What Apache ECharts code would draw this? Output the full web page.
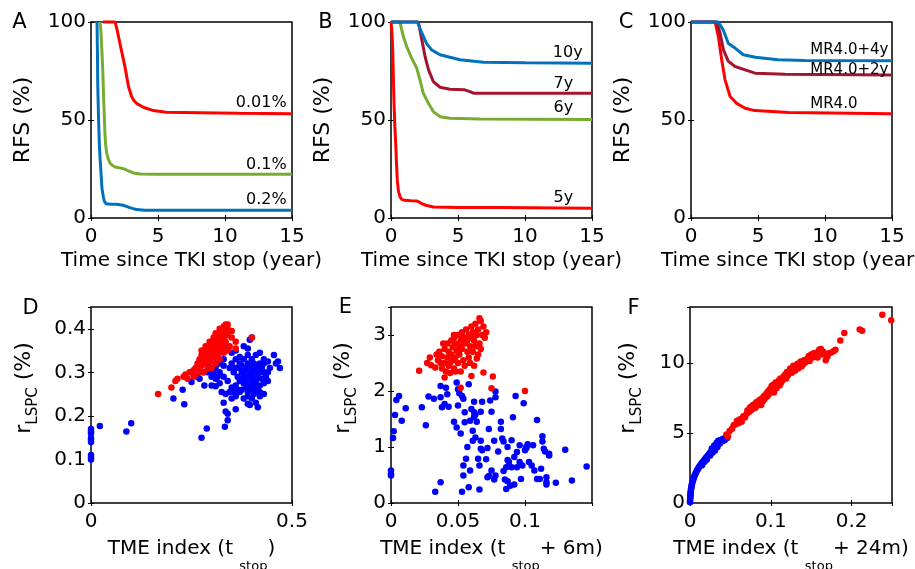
<!DOCTYPE html>
<html><head><meta charset="utf-8">
<script src="https://cdn.jsdelivr.net/npm/echarts@6/dist/echarts.min.js"></script>
<style>html,body{margin:0;padding:0;background:#fff}#c{width:915px;height:569px}</style>
</head><body><div id="c"></div>
<script>
// ---------- DATA ----------
// Panel A: RFS (%) vs time since TKI stop (year)
const a_02 = [[0.45,100],[0.48,85],[0.5,69],[0.56,52],[0.62,38],[0.68,30],[0.75,22.7],[0.82,15],[0.92,10.8],[1.0,8.5],[1.12,7.3],[1.5,7],[1.9,7],[2.4,6.5],[2.9,5.3],[3.4,4.3],[4,4],[8,3.9],[15,3.9]];
const a_01 = [[0.67,100],[0.72,97],[0.78,90],[0.87,77],[0.95,60],[1.04,43],[1.1,37],[1.17,33],[1.3,30],[1.42,28],[1.6,26.8],[1.8,26],[2.1,25.6],[2.41,25.2],[2.8,24],[3.16,23],[3.66,22.4],[5,22.3],[15,22.3]];
const a_001 = [[0.9,100],[1.8,100],[1.95,96],[2.16,89],[2.35,83],[2.54,77],[2.8,67],[3.03,62],[3.2,60],[3.4,58.5],[3.9,56.5],[4.65,54.8],[5.6,54],[8.1,53.7],[11,53.4],[15,53.2]];
// Panel B
const b_5y = [[0,100],[0.06,96],[0.12,87.5],[0.17,74],[0.22,60],[0.28,48],[0.35,38],[0.41,28],[0.47,19.3],[0.55,14],[0.67,10.8],[0.8,9.5],[1.04,9],[1.5,8.8],[1.9,8.7],[2.1,8.2],[2.29,7.3],[2.6,6.5],[3.16,5.6],[5,5.4],[8.1,5.3],[15,5]];
const b_6y = [[0,100],[0.67,100],[0.8,96],[0.92,92.6],[1.17,87.5],[1.54,81.6],[1.92,76.5],[2.16,70.5],[2.41,63.7],[2.79,58.5],[3.16,54.3],[3.66,51.7],[4.4,50.9],[6.64,50.5],[15,50.3]];
const b_7y = [[0,100],[2.04,100],[2.3,91],[2.54,82.4],[2.8,75.6],[3.16,69.6],[3.66,66.7],[4.4,65.7],[5.5,65.4],[5.9,64.5],[6.15,63.7],[15,63.7]];
const b_10y = [[0,100],[1.97,100],[2.3,94.4],[2.66,89],[3.03,85.8],[3.66,83.3],[4.4,82],[5.15,80.7],[6.9,79.5],[10,79.2],[15,79]];
// Panel C
const c_mr4 = [[0,100],[1.8,100],[2.04,92.7],[2.29,80.7],[2.54,70.5],[2.92,62],[3.41,58.5],[4.04,56],[4.78,54.8],[7.28,53.8],[15,53.2]];
const c_mr4_2y = [[0,100],[1.92,100],[2.17,94.4],[2.42,85.8],[2.79,79.9],[3.29,77.3],[4.04,75.6],[4.78,73.9],[7,73.3],[15,73]];
const c_mr4_4y = [[0,100],[2.04,100],[2.4,96],[2.79,89],[3.29,86.7],[3.9,83.3],[4.8,82],[6.5,80.7],[8.5,80.3],[15,80.2]];

// Panel D: r_LSPC (%) vs TME index (t_stop)
const dBlue = [[0,0.17],[0,0.165],[0,0.16],[0,0.15],[0,0.145],[0,0.14],[0,0.11],[0,0.105],[0,0.1],[0.022,0.177],[0.088,0.164],[0.1,0.183],[0.205,0.24],[0.232,0.227],[0.228,0.26],[0.25,0.278],[0.275,0.15],[0.288,0.171],[0.333,0.175],[0.27,0.285],[0.282,0.27],[0.3,0.27],[0.31,0.268],[0.29,0.3],[0.3,0.305],[0.31,0.31],[0.32,0.3],[0.33,0.29],[0.34,0.28],[0.335,0.25],[0.33,0.23],[0.335,0.21],[0.34,0.205],[0.34,0.19],[0.36,0.215],[0.35,0.24],[0.36,0.245],[0.37,0.255],[0.38,0.24],[0.39,0.228],[0.395,0.225],[0.4,0.24],[0.405,0.25],[0.41,0.26],[0.42,0.245],[0.43,0.25],[0.44,0.28],[0.445,0.31],[0.46,0.32],[0.465,0.325],[0.47,0.31],[0.455,0.34],[0.43,0.33],[0.42,0.345],[0.41,0.34],[0.4,0.33],[0.39,0.34],[0.38,0.33],[0.37,0.335],[0.36,0.33],[0.35,0.32],[0.345,0.31],[0.355,0.3],[0.365,0.29],[0.375,0.3],[0.385,0.31],[0.39,0.29],[0.395,0.3],[0.4,0.31],[0.405,0.32],[0.41,0.3],[0.415,0.29],[0.42,0.3],[0.425,0.31],[0.43,0.3],[0.435,0.29],[0.43,0.275],[0.42,0.27],[0.41,0.28],[0.4,0.28],[0.395,0.27],[0.385,0.265],[0.38,0.275],[0.37,0.28],[0.36,0.27],[0.35,0.265],[0.345,0.255],[0.355,0.255],[0.365,0.26],[0.375,0.26],[0.39,0.255],[0.4,0.26],[0.405,0.27],[0.415,0.265],[0.425,0.285],[0.44,0.3],[0.41,0.31],[0.39,0.32],[0.37,0.32],[0.35,0.345],[0.36,0.35],[0.38,0.36],[0.39,0.355],[0.34,0.355],[0.33,0.36],[0.395,0.375],[0.4,0.38],[0.32,0.32],[0.33,0.315],[0.29,0.32],[0.3,0.29],[0.28,0.3],[0.265,0.29],[0.41,0.23],[0.415,0.22],[0.39,0.245],[0.42,0.255],[0.33,0.33],[0.36,0.31],[0.37,0.31],[0.38,0.29],[0.4,0.29],[0.395,0.285],[0.385,0.28],[0.405,0.295],[0.415,0.305],[0.38,0.3],[0.375,0.315],[0.4,0.3],[0.42,0.32],[0.43,0.32],[0.44,0.325],[0.31,0.285],[0.32,0.275],[0.305,0.3],[0.325,0.255],[0.315,0.29]];
const dRed = [[0.167,0.25],[0.2,0.265],[0.21,0.28],[0.215,0.285],[0.23,0.29],[0.235,0.295],[0.24,0.285],[0.245,0.3],[0.25,0.3],[0.255,0.305],[0.26,0.31],[0.265,0.32],[0.27,0.31],[0.27,0.33],[0.275,0.34],[0.275,0.315],[0.28,0.32],[0.28,0.345],[0.285,0.33],[0.285,0.35],[0.29,0.335],[0.29,0.36],[0.295,0.34],[0.295,0.355],[0.3,0.345],[0.3,0.37],[0.3,0.325],[0.305,0.36],[0.305,0.38],[0.31,0.35],[0.31,0.37],[0.31,0.39],[0.315,0.36],[0.315,0.38],[0.32,0.365],[0.32,0.385],[0.32,0.4],[0.325,0.375],[0.325,0.395],[0.33,0.38],[0.33,0.405],[0.335,0.39],[0.335,0.41],[0.34,0.4],[0.34,0.41],[0.33,0.36],[0.32,0.345],[0.31,0.33],[0.3,0.31],[0.29,0.31],[0.28,0.33],[0.275,0.35],[0.285,0.36],[0.295,0.37],[0.305,0.34],[0.315,0.34],[0.325,0.35],[0.335,0.37],[0.345,0.36],[0.35,0.38],[0.36,0.37],[0.35,0.395],[0.34,0.385],[0.3,0.33],[0.28,0.3],[0.27,0.3],[0.26,0.295],[0.29,0.345],[0.31,0.355],[0.32,0.355],[0.33,0.345],[0.3,0.355],[0.31,0.32],[0.32,0.33],[0.29,0.325],[0.3,0.34],[0.34,0.35],[0.36,0.355],[0.4,0.38],[0.27,0.325],[0.265,0.3],[0.255,0.29],[0.275,0.33],[0.295,0.325],[0.285,0.34],[0.305,0.35],[0.315,0.37],[0.325,0.385],[0.335,0.4],[0.33,0.39]];

// Panel E: r_LSPC (%) vs TME index (t_stop + 6m)
const eBlue = [[0,0.58],[0,0.52],[0,0.49],[0.002,1.28],[0.0015,1.16],[0.003,1.57],[0.004,1.84],[0.006,1.91],[0.008,1.47],[0.011,1.69],[0.023,1.71],[0.026,1.39],[0.028,1.9],[0.032,1.86],[0.033,0.2],[0.037,0.37],[0.037,2.09],[0.037,1.89],[0.038,1.71],[0.04,1.77],[0.041,2.06],[0.042,1.94],[0.043,1.72],[0.047,1.45],[0.049,1.35],[0.05,1.74],[0.049,2.15],[0.05,2.03],[0.051,1.96],[0.052,1.24],[0.053,1.91],[0.054,1.86],[0.055,1.62],[0.055,1.44],[0.054,0.67],[0.054,0.49],[0.053,0.2],[0.056,0.79],[0.058,0.28],[0.057,1.0],[0.058,2.12],[0.059,0.58],[0.059,1.47],[0.06,1.68],[0.061,1.29],[0.061,1.11],[0.062,1.62],[0.062,1.54],[0.062,1.81],[0.063,1.17],[0.063,1.58],[0.064,1.45],[0.065,0.79],[0.066,0.67],[0.066,0.24],[0.067,1.11],[0.067,0.97],[0.067,1.63],[0.068,1.81],[0.068,0.94],[0.071,0.78],[0.072,0.98],[0.073,1.32],[0.072,0.46],[0.073,0.48],[0.074,1.83],[0.075,1.63],[0.075,0.58],[0.077,1.11],[0.077,0.42],[0.078,0.49],[0.078,1.99],[0.078,1.89],[0.08,0.92],[0.082,1.32],[0.082,1.45],[0.083,1.15],[0.084,0.57],[0.084,1.1],[0.085,0.42],[0.086,0.25],[0.086,0.64],[0.087,1.0],[0.087,0.77],[0.087,0.39],[0.088,0.73],[0.089,0.31],[0.09,1.12],[0.09,0.64],[0.091,1.53],[0.092,0.33],[0.092,0.82],[0.093,1.91],[0.094,0.64],[0.094,0.91],[0.096,1.03],[0.096,0.73],[0.097,0.43],[0.098,0.67],[0.099,1.78],[0.1,0.94],[0.101,0.98],[0.101,1.0],[0.102,1.05],[0.103,0.73],[0.105,0.67],[0.106,1.03],[0.107,0.58],[0.109,1.48],[0.109,0.43],[0.111,0.43],[0.112,0.61],[0.113,1.19],[0.113,1.1],[0.114,0.97],[0.115,0.92],[0.116,0.46],[0.116,0.33],[0.116,0.37],[0.118,0.88],[0.118,0.85],[0.123,0.36],[0.13,0.95],[0.135,0.4],[0.146,0.65]];
const eRed = [[0.021,2.36],[0.027,2.5],[0.029,2.6],[0.03,2.46],[0.033,2.42],[0.035,2.55],[0.036,2.7],[0.038,2.4],[0.038,2.62],[0.04,2.24],[0.04,2.5],[0.04,2.75],[0.041,2.35],[0.042,2.6],[0.042,2.85],[0.043,2.7],[0.044,2.5],[0.045,2.9],[0.045,2.65],[0.046,2.78],[0.047,2.4],[0.047,2.95],[0.048,2.6],[0.048,2.85],[0.049,2.72],[0.05,2.5],[0.05,3.0],[0.051,2.8],[0.051,2.65],[0.052,2.06],[0.052,2.9],[0.053,2.75],[0.053,3.05],[0.054,2.55],[0.055,2.85],[0.055,2.95],[0.056,3.1],[0.057,2.7],[0.057,2.9],[0.058,3.0],[0.059,2.8],[0.06,2.27],[0.06,3.15],[0.06,2.95],[0.061,3.05],[0.062,2.9],[0.062,2.45],[0.063,3.2],[0.064,2.58],[0.064,3.0],[0.065,3.1],[0.066,3.3],[0.066,2.85],[0.067,3.25],[0.068,3.0],[0.069,2.33],[0.069,3.15],[0.07,2.95],[0.071,3.05],[0.075,2.05],[0.076,2.26],[0.1,2.0],[0.044,2.32],[0.046,2.55],[0.05,2.7],[0.054,2.95],[0.058,2.6],[0.063,2.8],[0.037,2.5],[0.043,2.45],[0.048,2.35],[0.055,2.45],[0.059,2.5],[0.052,2.35],[0.034,2.65],[0.039,2.85],[0.047,3.0],[0.061,2.7],[0.065,2.65],[0.067,2.75]];

// Panel F: r_LSPC (%) vs TME index (t_stop + 24m)
const fBlue = [[0,0.05],[0,0.15],[0.0002,0.25],[0.0003,0.35],[0.0004,0.45],[0.0005,0.55],[0.0006,0.65],[0.0008,0.75],[0.001,0.85],[0.0012,0.95],[0.0014,1.05],[0.0017,1.15],[0.002,1.25],[0.0024,1.35],[0.0028,1.45],[0.0033,1.55],[0.0038,1.65],[0.0044,1.75],[0.005,1.85],[0.0057,1.95],[0.0064,2.05],[0.0072,2.15],[0.008,2.25],[0.009,2.35],[0.01,2.45],[0.011,2.55],[0.012,2.62],[0.013,2.72],[0.014,2.8],[0.015,2.88],[0.016,2.95],[0.017,3.0],[0.018,3.1],[0.019,3.15],[0.02,3.25],[0.021,3.3],[0.022,3.38],[0.023,3.45],[0.024,3.52],[0.025,3.6],[0.026,3.65],[0.027,3.72],[0.028,3.8],[0.029,3.85],[0.03,3.92],[0.031,4.0],[0.032,4.05],[0.033,4.12],[0.034,4.2],[0.035,4.3],[0.036,4.38],[0.037,4.45],[0.038,4.5],[0.04,4.55],[0.042,4.6],[0.044,4.62],[0.046,4.65],[0.021,3.1],[0.025,3.4],[0.028,3.6],[0.031,3.75],[0.034,4.0],[0.037,4.25],[0.039,4.4],[0.015,2.7],[0.018,2.95],[0.027,3.9],[0.03,4.1],[0.033,4.3],[0.035,4.45],[0.041,4.45],[0.043,4.5]];
const fRed = [[0.045,4.9],[0.047,4.75],[0.049,5.15],[0.052,5.3],[0.054,5.55],[0.056,5.6],[0.058,5.85],[0.06,5.7],[0.061,5.95],[0.063,6.0],[0.064,5.8],[0.066,6.2],[0.068,6.1],[0.07,6.35],[0.071,6.6],[0.073,6.5],[0.074,6.8],[0.075,6.6],[0.076,6.9],[0.077,6.7],[0.078,7.0],[0.079,6.85],[0.08,7.05],[0.081,6.8],[0.082,7.2],[0.083,6.95],[0.084,7.1],[0.085,7.3],[0.086,7.15],[0.087,7.4],[0.088,7.0],[0.089,7.45],[0.09,7.25],[0.091,7.6],[0.092,7.4],[0.093,7.7],[0.094,7.55],[0.095,7.85],[0.096,7.65],[0.097,8.0],[0.098,7.8],[0.099,8.15],[0.1,7.95],[0.101,8.35],[0.102,8.1],[0.103,8.45],[0.104,7.9],[0.105,8.3],[0.106,8.6],[0.107,8.2],[0.108,8.5],[0.11,8.75],[0.111,8.4],[0.112,8.9],[0.113,8.6],[0.115,8.8],[0.116,9.05],[0.118,9.2],[0.119,8.9],[0.12,9.35],[0.121,9.1],[0.123,9.4],[0.124,9.6],[0.126,9.3],[0.127,9.5],[0.128,9.8],[0.13,9.45],[0.131,9.7],[0.133,9.95],[0.134,9.6],[0.135,9.85],[0.137,10.1],[0.138,9.75],[0.14,9.9],[0.141,10.2],[0.143,10.05],[0.145,10.3],[0.147,10.5],[0.148,10.15],[0.15,10.6],[0.152,10.4],[0.153,10.7],[0.155,10.55],[0.157,10.75],[0.158,10.4],[0.16,10.95],[0.162,11.0],[0.164,10.6],[0.165,10.8],[0.168,10.2],[0.17,10.45],[0.172,10.7],[0.175,10.75],[0.178,10.85],[0.18,10.95],[0.186,11.6],[0.191,12.15],[0.21,12.4],[0.213,12.3],[0.238,13.45],[0.249,13.05]];

// Curve labels: [panel, text, x, y, align]
const curveLabels = [
  [0,'0.01%',14.6,58.7,'right'],[0,'0.1%',14.6,27,'right'],[0,'0.2%',14.6,9.2,'right'],
  [1,'10y',14.3,84.2,'right'],[1,'7y',13.6,68.4,'right'],[1,'6y',13.6,56,'right'],[1,'5y',13.6,10.2,'right'],
  [2,'MR4.0+4y',8.9,85.7,'left'],[2,'MR4.0+2y',8.9,75.5,'left'],[2,'MR4.0',8.9,58,'left']
];
const panelLetters = ['A','B','C','D','E','F'];

// ---------- LAYOUT / STYLE ----------
const FONT = 'DejaVu Sans';
const BLUE = '#0072BD', GREEN = '#77AC30', DRED = '#A2142F', RED = '#FF0000';
const grids = [
  {left:91, top:22, width:201, height:196},
  {left:391, top:22, width:201, height:196},
  {left:691, top:22, width:201, height:196},
  {left:91, top:307, width:201, height:196},
  {left:391, top:307, width:201, height:196},
  {left:690, top:307, width:202, height:196}
];
const ranges = [
  {x:[0,15,5], y:[0,100,50]},
  {x:[0,15,5], y:[0,100,50]},
  {x:[0,15,5], y:[0,100,50]},
  {x:[0,0.5,0.5], y:[0,0.45,0.1]},
  {x:[0,0.15,0.05], y:[0,3.5,1]},
  {x:[0,0.25,0.1], y:[0,14,5]}
];
const xAxis = [], yAxis = [];
ranges.forEach((r, i) => {
  const tick = {show:true, inside:true, length:3, lineStyle:{color:'#000', width:1}};
  const lab = {show:true, color:'#000', fontFamily:FONT, fontSize:20, showMaxLabel: i <= 3};
  const ylab = {show:true, color:'#000', fontFamily:FONT, fontSize:20, margin:5, showMaxLabel: i < 3};
  xAxis.push({type:'value', gridIndex:i, position:'bottom', min:r.x[0], max:r.x[1], interval:r.x[2],
    axisLine:{show:false}, splitLine:{show:false}, axisTick:tick, axisLabel:Object.assign({margin:9}, lab)});
  xAxis.push({type:'value', gridIndex:i, position:'top', min:r.x[0], max:r.x[1], interval:r.x[2],
    axisLine:{show:false}, splitLine:{show:false}, axisTick:tick, axisLabel:{show:false}});
  yAxis.push({type:'value', gridIndex:i, position:'left', min:r.y[0], max:r.y[1], interval:r.y[2],
    axisLine:{show:false}, splitLine:{show:false}, axisTick:tick, axisLabel:ylab});
  yAxis.push({type:'value', gridIndex:i, position:'right', min:r.y[0], max:r.y[1], interval:r.y[2],
    axisLine:{show:false}, splitLine:{show:false}, axisTick:tick, axisLabel:{show:false}});
});

function line(i, data, color){
  return {type:'line', xAxisIndex:2*i, yAxisIndex:2*i, data, showSymbol:false, symbol:'none',
    clip:false, lineStyle:{color, width:3}, itemStyle:{color}, animation:false, z:3};
}
function scat(i, data, color){
  return {type:'scatter', xAxisIndex:2*i, yAxisIndex:2*i, data, symbolSize:6.5, clip:false,
    itemStyle:{color, opacity:1}, animation:false, z:3};
}
const series = [
  line(0,a_02,BLUE), line(0,a_01,GREEN), line(0,a_001,RED),
  line(1,b_5y,RED), line(1,b_6y,GREEN), line(1,b_7y,DRED), line(1,b_10y,BLUE),
  line(2,c_mr4,RED), line(2,c_mr4_2y,DRED), line(2,c_mr4_4y,BLUE),
  scat(3,dBlue,'#0000FF'), scat(3,dRed,RED),
  scat(4,eBlue,'#0000FF'), scat(4,eRed,RED),
  scat(5,fBlue,'#0000FF'), scat(5,fRed,RED)
];

const chart = echarts.init(document.getElementById('c'), null, {renderer:'canvas'});
chart.setOption({
  animation:false,
  backgroundColor:'#fff',
  grid: grids.map(g => Object.assign({show:true, borderColor:'#000', borderWidth:1.5, backgroundColor:'transparent', containLabel:false}, g)),
  xAxis, yAxis, series
});

// ---------- TEXT (titles, letters, curve labels) ----------
const mctx = document.createElement('canvas').getContext('2d');
function tw(t, s){ mctx.font = s + 'px "' + FONT + '"'; return mctx.measureText(t).width; }
function txt(t, x, y, s, align){
  return {type:'text', x, y, z:10, style:{text:t, fill:'#000', font: s + 'px "' + FONT + '"',
    textAlign:align||'center', textVerticalAlign:'middle', align:align||'center', verticalAlign:'middle'}};
}
function composite(parts, cx, cy, rot){
  const total = parts.reduce((a,p)=>a + tw(p.t, p.s), 0);
  let x = -total/2;
  const children = parts.map(p => { const el = txt(p.t, x, p.dy||0, p.s, 'left'); x += tw(p.t, p.s); return el; });
  return {type:'group', x:cx, y:cy, rotation: rot ? Math.PI/2 : 0, z:10, children};
}
const g = [];
const letterPos = [[19.5,22.5],[325.5,22.5],[626,22.5],[30.5,308.5],[345.5,307.5],[633.5,308.5]];
panelLetters.forEach((L,i)=>g.push(txt(L, letterPos[i][0], letterPos[i][1], 21)));
[0,1,2].forEach(i=>{
  const cx = grids[i].left + grids[i].width/2;
  g.push(txt('Time since TKI stop (year)', cx, 261, 20));
  g.push(composite([{t:'RFS (%)', s:22}], grids[i].left - 68, grids[i].top + grids[i].height/2, true));
});
const xSuffix = [')', '+ 6m)', '+ 24m)'];
[3,4,5].forEach((i,k)=>{
  const cx = grids[i].left + grids[i].width/2;
  g.push(composite([{t:'TME index (t ', s:20},{t:'stop', s:13, dy:18},{t:xSuffix[k], s:20}], cx, 549, false));
});
const yTitleX = [24, 343, 628];
[3,4,5].forEach((i,k)=>{
  g.push(composite([{t:'r', s:22},{t:'LSPC', s:15, dy:9},{t:' (%)', s:22}], yTitleX[k], 388, true));
});
curveLabels.forEach(([p, t, x, y, al])=>{
  const px = chart.convertToPixel({xAxisIndex:2*p, yAxisIndex:2*p}, [x, y]);
  g.push(txt(t, px[0], px[1], p === 2 ? 15 : 16, al));
});
chart.setOption({graphic: g});
</script>
</body></html>
